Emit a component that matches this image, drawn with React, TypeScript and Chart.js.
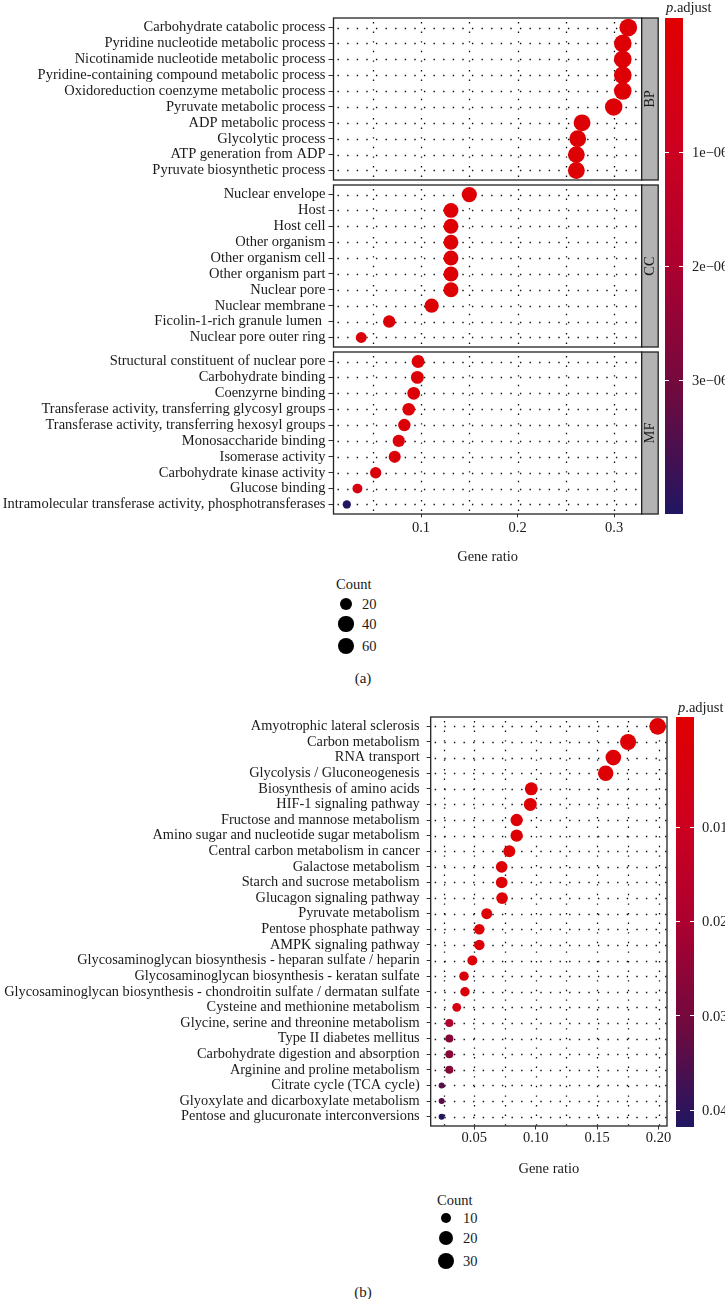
import React, { useEffect, useRef } from "react";
import { Chart, registerables } from "chart.js";
Chart.register(...registerables);

const FONT = "'Liberation Serif', 'Times New Roman', serif";
const TEXT = "#1a1a1a";
const FS = 14.5;

// ---------------- Panel (a): GO enrichment ----------------
const BP_TERMS = [
  "Carbohydrate catabolic process",
  "Pyridine nucleotide metabolic process",
  "Nicotinamide nucleotide metabolic process",
  "Pyridine-containing compound metabolic process",
  "Oxidoreduction coenzyme metabolic process",
  "Pyruvate metabolic process",
  "ADP metabolic process",
  "Glycolytic process",
  "ATP generation from ADP",
  "Pyruvate biosynthetic process",
];
const BP_RATIO = [0.3147, 0.309, 0.309, 0.309, 0.309, 0.2996, 0.2668, 0.2623, 0.2609, 0.2609];
const BP_COUNT = [72, 71, 71, 71, 71, 69, 61, 60, 60, 60];
const BP_PADJ = [2e-10, 4e-10, 4e-10, 5e-10, 6e-10, 8e-10, 3e-9, 5e-9, 6e-9, 6e-9];

const CC_TERMS = [
  "Nuclear envelope",
  "Host",
  "Host cell",
  "Other organism",
  "Other organism cell",
  "Other organism part",
  "Nuclear pore",
  "Nuclear membrane",
  "Ficolin-1-rich granule lumen ",
  "Nuclear pore outer ring",
];
const CC_RATIO = [0.15, 0.131, 0.131, 0.131, 0.131, 0.131, 0.131, 0.111, 0.067, 0.038];
const CC_COUNT = [41, 38, 38, 38, 38, 38, 38, 32, 18, 10];
const CC_PADJ = [1e-9, 2e-9, 2e-9, 2e-9, 2e-9, 2e-9, 3e-9, 2e-8, 1e-7, 2e-7];

const MF_TERMS = [
  "Structural constituent of nuclear pore",
  "Carbohydrate binding",
  "Coenzyrne binding",
  "Transferase activity, transferring glycosyl groups",
  "Transferase activity, transferring hexosyl groups",
  "Monosaccharide binding",
  "Isomerase activity",
  "Carbohydrate kinase activity",
  "Glucose binding",
  "Intramolecular transferase activity, phosphotransferases",
];
const MF_RATIO = [0.0969, 0.0962, 0.0924, 0.0872, 0.0827, 0.0769, 0.0727, 0.053, 0.0341, 0.0231];
const MF_COUNT = [21, 21, 20, 19, 18, 17, 16, 12, 7, 5];
const MF_PADJ = [2e-8, 3e-8, 5e-8, 8e-8, 1e-7, 1.5e-7, 2e-7, 3e-7, 4e-7, 4.1e-6];

const FACET_NAMES_A = ["BP", "CC", "MF"];
const X_TICKS_A = [0.1, 0.2, 0.3];
const X_GRID_A = [0.05, 0.1, 0.15, 0.2, 0.25, 0.3];
const X_LIMITS_A = [0.0093, 0.3286];
const PADJ_TICKS_A = [1e-6, 2e-6, 3e-6];
const PADJ_LABELS_A = ["1e\u221206", "2e\u221206", "3e\u221206"];
const PADJ_LIMITS_A = [-0.175e-6, 4.17e-6];
const COUNT_BREAKS_A = [20, 40, 60];

// ---------------- Panel (b): KEGG enrichment ----------------
const KEGG_TERMS = [
  "Amyotrophic lateral sclerosis",
  "Carbon metabolism",
  "RNA transport",
  "Glycolysis / Gluconeogenesis",
  "Biosynthesis of amino acids",
  "HIF-1 signaling pathway",
  "Fructose and mannose metabolism",
  "Amino sugar and nucleotide sugar metabolism",
  "Central carbon metabolism in cancer",
  "Galactose metabolism",
  "Starch and sucrose metabolism",
  "Glucagon signaling pathway",
  "Pyruvate metabolism",
  "Pentose phosphate pathway",
  "AMPK signaling pathway",
  "Glycosaminoglycan biosynthesis - heparan sulfate / heparin",
  "Glycosaminoglycan biosynthesis - keratan sulfate",
  "Glycosaminoglycan biosynthesis - chondroitin sulfate / dermatan sulfate",
  "Cysteine and methionine metabolism",
  "Glycine, serine and threonine metabolism",
  "Type II diabetes mellitus",
  "Carbohydrate digestion and absorption",
  "Arginine and proline metabolism",
  "Citrate cycle (TCA cycle)",
  "Glyoxylate and dicarboxylate metabolism",
  "Pentose and glucuronate interconversions",
];
const KEGG_RATIO = [
  0.1993, 0.1752, 0.1632, 0.157, 0.0964, 0.0956, 0.0845, 0.0845, 0.0785, 0.0723, 0.0723, 0.0726, 0.0601,
  0.0541, 0.0541, 0.0484, 0.0416, 0.0424, 0.0357, 0.0297, 0.0297, 0.0297, 0.0297, 0.0234, 0.0234, 0.0234,
];
const KEGG_COUNT = [33, 29, 27, 26, 16, 16, 14, 14, 13, 12, 12, 12, 10, 9, 9, 8, 7, 7, 6, 5, 5, 5, 5, 4, 4, 4];
const KEGG_PADJ = [
  1e-12, 1e-10, 1e-9, 1e-10, 1e-6, 1e-6, 1e-6, 2e-6, 1e-5, 1e-5, 1e-5, 3e-5, 1e-4, 3e-4, 5e-4, 1e-3, 2e-3,
  2e-3, 4e-3, 0.018, 0.027, 0.027, 0.027, 0.034, 0.034, 0.0413,
];
const X_TICKS_B = [0.05, 0.1, 0.15, 0.2];
const X_GRID_B = [0.025, 0.05, 0.075, 0.1, 0.125, 0.15, 0.175, 0.2];
const X_LIMITS_B = [0.0145, 0.2069];
const PADJ_TICKS_B = [0.01, 0.02, 0.03, 0.04];
const PADJ_LABELS_B = ["0.01", "0.02", "0.03", "0.04"];
const PADJ_LIMITS_B = [-0.00166, 0.0418];
const COUNT_BREAKS_B = [10, 20, 30];

// ---------------- helpers ----------------
const COLOR_STOPS = [
  [224, 0, 0],
  [206, 0, 30],
  [172, 0, 48],
  [112, 10, 62],
  [32, 22, 98],
];
function colorAt(f: number) {
  const t = Math.max(0, Math.min(1, f)) * (COLOR_STOPS.length - 1);
  const i = Math.min(COLOR_STOPS.length - 2, Math.floor(t));
  const u = t - i;
  const a = COLOR_STOPS[i], b = COLOR_STOPS[i + 1];
  const c = a.map((v, k) => Math.round(v + (b[k] - v) * u));
  return `rgb(${c[0]},${c[1]},${c[2]})`;
}
const GRADIENT = `linear-gradient(to bottom, ${COLOR_STOPS.map(
  (c, i) => `rgb(${c[0]},${c[1]},${c[2]}) ${(i / (COLOR_STOPS.length - 1)) * 100}%`
).join(", ")})`;

function makeSize(counts: number[], dmin: number, dmax: number) {
  const cmin = Math.min(...counts), cmax = Math.max(...counts);
  return (c: number) => dmin + (dmax - dmin) * Math.sqrt(Math.max(0, c - cmin) / (cmax - cmin));
}

const EXPAND = 0.6;
type Facet = { name: string; terms: string[]; ratio: number[]; count: number[]; padj: number[]; start?: number; end?: number };
function layoutFacets(facets: Facet[], gap: number) {
  let s = 0;
  const panels = facets.map((f) => {
    const span = f.terms.length - 1 + 2 * EXPAND;
    const p = { ...f, start: s, end: s + span };
    s += span + gap;
    return p;
  });
  return { panels, total: s - gap };
}

function buildChart(canvas: HTMLCanvasElement, o: any) {
  const pts: any[] = [], radii: number[] = [], cols: string[] = [], yPos: number[] = [], yLab: string[] = [];
  o.panels.forEach((p: any) =>
    p.terms.forEach((t: string, i: number) => {
      const yv = p.start + EXPAND + i;
      pts.push({ x: p.ratio[i], y: yv });
      radii.push(o.size(p.count[i]) / 2);
      cols.push(colorAt((p.padj[i] - o.plim[0]) / (o.plim[1] - o.plim[0])));
      yPos.push(yv);
      yLab.push(t);
    })
  );
  const plugin = {
    id: "facets",
    beforeDatasetsDraw(chart: any) {
      const { ctx, chartArea: ca, scales } = chart;
      const x = scales.x, y = scales.y;
      ctx.save();
      ctx.strokeStyle = "rgba(0,0,0,0.95)";
      ctx.lineWidth = 1.3;
      ctx.setLineDash([1.4, 8.2]);
      for (const p of o.panels) {
        const top = y.getPixelForValue(p.start), bot = y.getPixelForValue(p.end);
        for (let i = 0; i < p.terms.length; i++) {
          const py = Math.round(y.getPixelForValue(p.start + EXPAND + i)) + 0.5;
          ctx.beginPath();
          ctx.moveTo(ca.left + 4, py);
          ctx.lineTo(ca.right, py);
          ctx.stroke();
        }
        for (const g of o.grid) {
          const px = Math.round(x.getPixelForValue(g)) + 0.5;
          ctx.beginPath();
          ctx.moveTo(px, top + 4);
          ctx.lineTo(px, bot);
          ctx.stroke();
        }
      }
      ctx.restore();
    },
    afterDatasetsDraw(chart: any) {
      const { ctx, chartArea: ca, scales } = chart;
      const y = scales.y;
      ctx.save();
      for (const p of o.panels) {
        const top = y.getPixelForValue(p.start), bot = y.getPixelForValue(p.end);
        ctx.strokeStyle = "#222";
        ctx.lineWidth = 1.3;
        ctx.strokeRect(ca.left, top, ca.right - ca.left, bot - top);
        if (o.strip) {
          ctx.fillStyle = "#b3b3b3";
          ctx.fillRect(ca.right, top, o.strip, bot - top);
          ctx.strokeRect(ca.right, top, o.strip, bot - top);
          ctx.fillStyle = TEXT;
          ctx.font = `${FS}px ${FONT}`;
          ctx.textAlign = "center";
          ctx.textBaseline = "middle";
          ctx.translate(ca.right + o.strip / 2 + 0.5, (top + bot) / 2);
          ctx.rotate(-Math.PI / 2);
          ctx.fillText(p.name, 0, 0);
          ctx.setTransform(1, 0, 0, 1, 0, 0);
        }
      }
      ctx.restore();
    },
  };
  return new Chart(canvas, {
    type: "scatter",
    data: {
      datasets: [
        {
          data: pts,
          pointRadius: radii,
          pointHoverRadius: radii,
          pointBackgroundColor: cols,
          pointBorderWidth: 0,
          pointHoverBorderWidth: 0,
        },
      ],
    },
    options: {
      responsive: false,
      animation: false,
      events: [],
      layout: { padding: o.padding },
      plugins: { legend: { display: false }, tooltip: { enabled: false } },
      scales: {
        x: {
          type: "linear",
          position: "bottom",
          min: o.xlim[0],
          max: o.xlim[1],
          afterBuildTicks: (s: any) => {
            s.ticks = o.xticks.map((v: number) => ({ value: v }));
          },
          afterFit: (s: any) => {
            s.height = o.xAxisH;
          },
          ticks: {
            autoSkip: false,
            maxRotation: 0,
            padding: o.xTickPad,
            color: TEXT,
            font: { family: FONT, size: FS },
            callback: (v: any) => o.xfmt(Number(v)),
          },
          grid: { drawOnChartArea: false, drawTicks: true, tickLength: o.xTickLen, color: "#333", lineWidth: 1 },
          border: { display: false },
          title: {
            display: true,
            text: "Gene ratio",
            color: TEXT,
            font: { family: FONT, size: FS },
            padding: { top: 0, bottom: o.titlePad },
          },
        },
        y: {
          type: "linear",
          min: 0,
          max: o.total,
          reverse: true,
          afterBuildTicks: (s: any) => {
            s.ticks = yPos.map((v) => ({ value: v }));
          },
          afterFit: (s: any) => {
            s.width = o.yAxisW;
          },
          ticks: {
            autoSkip: false,
            padding: o.yTickPad,
            color: TEXT,
            font: { family: FONT, size: o.yFont },
            callback: (v: any) => {
              const k = yPos.findIndex((q) => Math.abs(q - Number(v)) < 1e-6);
              return k >= 0 ? yLab[k] : "";
            },
          },
          grid: { drawOnChartArea: false, drawTicks: true, tickLength: o.yTickLen, color: "#333", lineWidth: 1 },
          border: { display: false },
        },
      },
    },
    plugins: [plugin],
  } as any);
}

function ColorBar(props: any) {
  const { left, top, width, height, lim, ticks, labels, labelLeft, titleLeft, titleY } = props;
  const ys = ticks.map((t: number) => top + ((t - lim[0]) / (lim[1] - lim[0])) * height);
  return (
    <>
      <div
        style={{
          position: "absolute",
          left: titleLeft,
          top: titleY - 9,
          height: 18,
          lineHeight: "18px",
          fontSize: FS,
          fontFamily: FONT,
          color: TEXT,
          whiteSpace: "nowrap",
        }}
      >
        <i>p</i>.adjust
      </div>
      <div style={{ position: "absolute", left, top, width, height, background: GRADIENT }} />
      {ys.map((y: number, i: number) => (
        <React.Fragment key={i}>
          <div style={{ position: "absolute", left, top: y - 0.5, width: 3.6, height: 1, background: "#fff" }} />
          <div
            style={{ position: "absolute", left: left + width - 3.6, top: y - 0.5, width: 3.6, height: 1, background: "#fff" }}
          />
          <div
            style={{
              position: "absolute",
              left: labelLeft,
              top: y - 9,
              height: 18,
              lineHeight: "18px",
              fontSize: FS,
              fontFamily: FONT,
              color: TEXT,
              whiteSpace: "nowrap",
            }}
          >
            {labels[i]}
          </div>
        </React.Fragment>
      ))}
    </>
  );
}

function SizeLegend(props: any) {
  const { titleLeft, titleY, cx, ys, breaks, size, labelLeft } = props;
  const txt = { position: "absolute", height: 18, lineHeight: "18px", fontSize: FS, fontFamily: FONT, color: TEXT, whiteSpace: "nowrap" } as any;
  return (
    <>
      <div style={{ ...txt, left: titleLeft, top: titleY - 9 }}>Count</div>
      {breaks.map((b: number, i: number) => {
        const d = size(b);
        return (
          <React.Fragment key={b}>
            <div
              style={{ position: "absolute", left: cx - d / 2, top: ys[i] - d / 2, width: d, height: d, borderRadius: "50%", background: "#000" }}
            />
            <div style={{ ...txt, left: labelLeft, top: ys[i] - 9 }}>{b}</div>
          </React.Fragment>
        );
      })}
    </>
  );
}

const allCountsA = [...BP_COUNT, ...CC_COUNT, ...MF_COUNT];
const sizeA = makeSize(allCountsA, 8.3, 17.7);
const sizeB = makeSize(KEGG_COUNT, 6, 16.8);

export default function App() {
  const refA = useRef<HTMLCanvasElement>(null);
  const refB = useRef<HTMLCanvasElement>(null);

  useEffect(() => {
    const facetsA: Facet[] = [
      { name: FACET_NAMES_A[0], terms: BP_TERMS, ratio: BP_RATIO, count: BP_COUNT, padj: BP_PADJ },
      { name: FACET_NAMES_A[1], terms: CC_TERMS, ratio: CC_RATIO, count: CC_COUNT, padj: CC_PADJ },
      { name: FACET_NAMES_A[2], terms: MF_TERMS, ratio: MF_RATIO, count: MF_COUNT, padj: MF_PADJ },
    ];
    const la = layoutFacets(facetsA, 0.315);
    const chartA = buildChart(refA.current!, {
      panels: la.panels,
      total: la.total,
      xlim: X_LIMITS_A,
      xticks: X_TICKS_A,
      xfmt: (v: number) => String(v),
      grid: X_GRID_A,
      size: sizeA,
      plim: PADJ_LIMITS_A,
      padding: { left: 0, right: 83.3, top: 18, bottom: 0 },
      yAxisW: 333.5,
      yTickLen: 5,
      yTickPad: 3,
      yFont: 14.5,
      xAxisH: 61,
      xTickLen: 3.3,
      xTickPad: 2.2,
      titlePad: 9.3,
      strip: 16.5,
    });
    const lb = layoutFacets([{ name: "", terms: KEGG_TERMS, ratio: KEGG_RATIO, count: KEGG_COUNT, padj: KEGG_PADJ }], 0);
    const chartB = buildChart(refB.current!, {
      panels: lb.panels,
      total: lb.total,
      xlim: X_LIMITS_B,
      xticks: X_TICKS_B,
      xfmt: (v: number) => v.toFixed(2),
      grid: X_GRID_B,
      size: sizeB,
      plim: PADJ_LIMITS_B,
      padding: { left: 0, right: 58, top: 27, bottom: 0 },
      yAxisW: 430.7,
      yTickLen: 4,
      yTickPad: 7,
      yFont: 14.35,
      xAxisH: 54,
      xTickLen: 3.5,
      xTickPad: 0.2,
      titlePad: 2.4,
      strip: 0,
    });
    return () => {
      chartA.destroy();
      chartB.destroy();
    };
  }, []);

  const cap = { position: "absolute", width: 40, textAlign: "center", fontSize: 15, fontFamily: FONT, color: TEXT, height: 18, lineHeight: "18px" } as any;

  return (
    <div style={{ position: "absolute", left: 0, top: 0, width: 725, height: 1299, background: "#fff", overflow: "hidden" }}>
      <canvas ref={refA} width={725} height={575} style={{ position: "absolute", left: 0, top: 0, width: 725, height: 575 }} />
      <canvas ref={refB} width={725} height={490} style={{ position: "absolute", left: 0, top: 690, width: 725, height: 490 }} />
      <ColorBar left={665} top={18} width={18} height={496} lim={PADJ_LIMITS_A} ticks={PADJ_TICKS_A} labels={PADJ_LABELS_A} labelLeft={692} titleLeft={666} titleY={7} />
      <ColorBar left={676} top={717} width={18} height={410} lim={PADJ_LIMITS_B} ticks={PADJ_TICKS_B} labels={PADJ_LABELS_B} labelLeft={702} titleLeft={678} titleY={707} />
      <SizeLegend titleLeft={336} titleY={584} cx={346} ys={[604, 624, 646]} breaks={COUNT_BREAKS_A} size={sizeA} labelLeft={362} />
      <SizeLegend titleLeft={437} titleY={1200} cx={446} ys={[1218, 1238, 1261]} breaks={COUNT_BREAKS_B} size={sizeB} labelLeft={463} />
      <div style={{ ...cap, left: 343, top: 669 }}>(a)</div>
      <div style={{ ...cap, left: 343, top: 1283 }}>(b)</div>
    </div>
  );
}
